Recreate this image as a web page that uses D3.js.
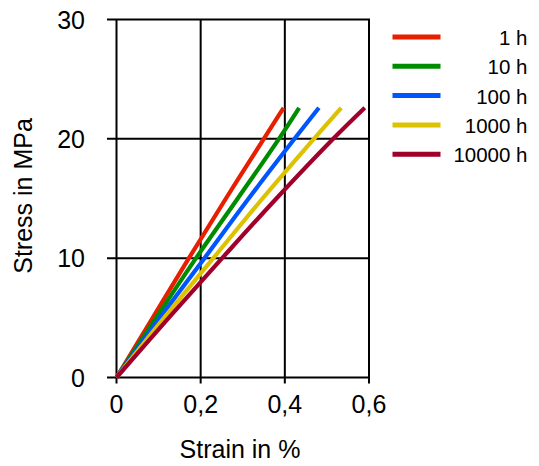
<!DOCTYPE html>
<html><head><meta charset="utf-8">
<script src="https://cdn.jsdelivr.net/npm/d3@7"></script>
<style>body{margin:0;background:#fff}svg{display:block;font-family:"Liberation Sans",Arial,sans-serif}</style>
</head><body><svg id="c" width="539" height="466"></svg>
<script>
const seriesNames = ["1 h","10 h","100 h","1000 h","10000 h"];
const colors = ["#e81e00","#008c00","#0055ff","#dcc200","#a0002a"];
const stressLevels = [0,5,10,15,20,22.6];
const strain1h     = [0,0.086,0.172,0.260,0.350,0.397];
const strain10h    = [0,0.094,0.189,0.288,0.386,0.434];
const strain100h   = [0,0.103,0.209,0.314,0.423,0.481];
const strain1000h  = [0,0.113,0.230,0.347,0.469,0.534];
const strain10000h = [0,0.124,0.251,0.380,0.515,0.590];
const xTicks = [0,0.2,0.4,0.6];
const xTickLabels = ["0","0,2","0,4","0,6"];
const yTicks = [0,10,20,30];

const allStrain = [strain1h,strain10h,strain100h,strain1000h,strain10000h];
const svg = d3.select("#c");
const x = d3.scaleLinear().domain([0,0.6]).range([116.5,369]);
const y = d3.scaleLinear().domain([0,30]).range([377.5,19.5]);

// grid
const g = svg.append("g");
g.selectAll(".gx").data(xTicks).join("line")
  .attr("x1",d=>x(d)).attr("x2",d=>x(d)).attr("y1",y(30)).attr("y2",y(0)+6)
  .attr("stroke","#000").attr("stroke-width",2);
g.selectAll(".gy").data(yTicks).join("line")
  .attr("y1",d=>y(d)).attr("y2",d=>y(d)).attr("x1",x(0)-9.5).attr("x2",x(0.6)+1)
  .attr("stroke","#000").attr("stroke-width",2);

// tick labels
svg.selectAll(".xl").data(xTicks).join("text")
  .attr("x",d=>x(d)).attr("y",412.5).attr("text-anchor","middle")
  .attr("font-size",25).text((d,i)=>xTickLabels[i]);
svg.selectAll(".yl").data(yTicks).join("text")
  .attr("x",85).attr("y",d=>y(d)+9).attr("text-anchor","end")
  .attr("font-size",25).text(d=>d);

svg.append("text").attr("x",240).attr("y",458).attr("text-anchor","middle")
  .attr("font-size",25).text("Strain in %");
svg.append("text").attr("transform","translate(32,196) rotate(-90)").attr("text-anchor","middle")
  .attr("font-size",25).text("Stress in MPa");

// curves
const line = d3.line().x(d=>x(d[0])).y(d=>y(d[1])).curve(d3.curveCatmullRom.alpha(0.5));
allStrain.forEach((s,i)=>{
  const pts = s.map((v,j)=>[v,stressLevels[j]]);
  svg.append("path").attr("d",line(pts)).attr("fill","none")
    .attr("stroke",colors[i]).attr("stroke-width",4.2).attr("stroke-linecap","butt");
});

// legend
const leg = svg.append("g");
seriesNames.forEach((n,i)=>{
  const cy = 37 + i*29.3;
  leg.append("line").attr("x1",392.5).attr("x2",440.5).attr("y1",cy).attr("y2",cy)
    .attr("stroke",colors[i]).attr("stroke-width",5);
  leg.append("text").attr("x",527.5).attr("y",cy+8).attr("text-anchor","end")
    .attr("font-size",20.5).text(n);
});
</script></body></html>
